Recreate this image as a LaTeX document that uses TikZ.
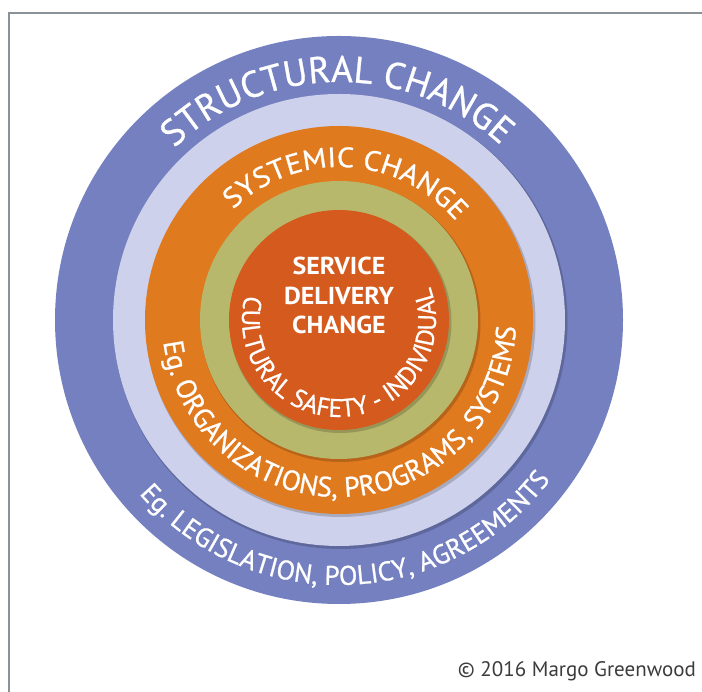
\documentclass[tikz,border=0pt]{standalone}
\usepackage{fontspec}
\setmainfont{PT Sans}
\newfontfamily\ringfont[FakeBold=0.8]{PT Sans}
\newfontfamily\ringwide[FakeBold=0.8,FakeStretch=1.08]{PT Sans}
\newfontfamily\corefont[FakeStretch=1.06]{PT Sans}
\usetikzlibrary{decorations.text,calc}
\definecolor{outerblue}{HTML}{7480BF}
\definecolor{lightlav}{HTML}{CDD1EB}
\definecolor{orangering}{HTML}{E07A1F}
\definecolor{greenring}{HTML}{B7B86B}
\definecolor{redcore}{HTML}{D55A1D}
\definecolor{framegray}{HTML}{8A9298}
\definecolor{copygray}{HTML}{3C3C3C}
\tikzset{
  disc/.style={circle, inner sep=0pt, outer sep=0pt, minimum size=#1},
  discshadow/.style={circle, inner sep=0pt, minimum size=#1, fill=black, opacity=0.18},
  arctext/.style={decorate, decoration={text along path, text align=center, text color=white, text={#1}}}
}
\begin{document}
\begin{tikzpicture}[x=1pt,y=1pt]
\useasboundingbox (0,0) rectangle (702,692);
\fill[white] (0,0) rectangle (702,692);
\draw[framegray, line width=1.6pt] (9,0) -- (9,679) -- (702,679);
\coordinate (C) at (339,372);
% rings
\node[disc=568pt, fill=outerblue] (structural) at (C) {};
\node[discshadow=454pt] (sh2) at ($(C)+(1.5,-2)$) {};
\node[disc=452pt, fill=lightlav] (gap) at (C) {};
\node[discshadow=390pt] (sh3) at ($(C)+(1.5,-2)$) {};
\node[disc=388pt, fill=orangering] (systemic) at (C) {};
\node[discshadow=280pt] (sh4) at ($(C)+(1.5,-2)$) {};
\node[disc=278pt, fill=greenring] (cultural) at (C) {};
\node[discshadow=222pt] (sh5) at ($(C)+(1.5,-2)$) {};
\node[disc=220pt, fill=redcore] (service) at (C) {};
% curved texts
\path[arctext={|\ringfont\fontsize{37}{37}\selectfont|STRUCTURAL CHANGE}]
  ($(C)+(180.5:238)$) arc[start angle=180.5, end angle=0.5, radius=238];
\path[arctext={|\ringwide\fontsize{28}{28}\selectfont|SYSTEMIC CHANGE}]
  ($(C)+(177:153)$) arc[start angle=177, end angle=-3, radius=153];
\path[arctext={|\ringfont\fontsize{28}{28}\selectfont|Eg. ORGANIZATIONS, PROGRAMS, SYSTEMS}]
  ($(C)+(182.5:177)$) arc[start angle=182.5, end angle=362.5, radius=177];
\path[arctext={|\ringfont\fontsize{27}{27}\selectfont|Eg. LEGISLATION, POLICY, AGREEMENTS}]
  ($(C)+(182:265)$) arc[start angle=182, end angle=362, radius=265];
\path[arctext={|\ringfont\fontsize{25.5}{25.5}\selectfont|CULTURAL SAFETY - INDIVIDUAL}]
  ($(C)+(92.5:97)$) arc[start angle=92.5, end angle=452.5, radius=97];
% centre
\node[text=white, font=\corefont\fontsize{24.5}{29.5}\selectfont\bfseries, align=center] (centre) at ($(C)+(0,24.5)$) {SERVICE\\DELIVERY\\CHANGE};
% copyright
\node[anchor=base east, text=copygray, font=\fontsize{21}{21}\selectfont, inner sep=0pt] (copy) at (696,15) {© 2016 Margo Greenwood};
\end{tikzpicture}
\end{document}
